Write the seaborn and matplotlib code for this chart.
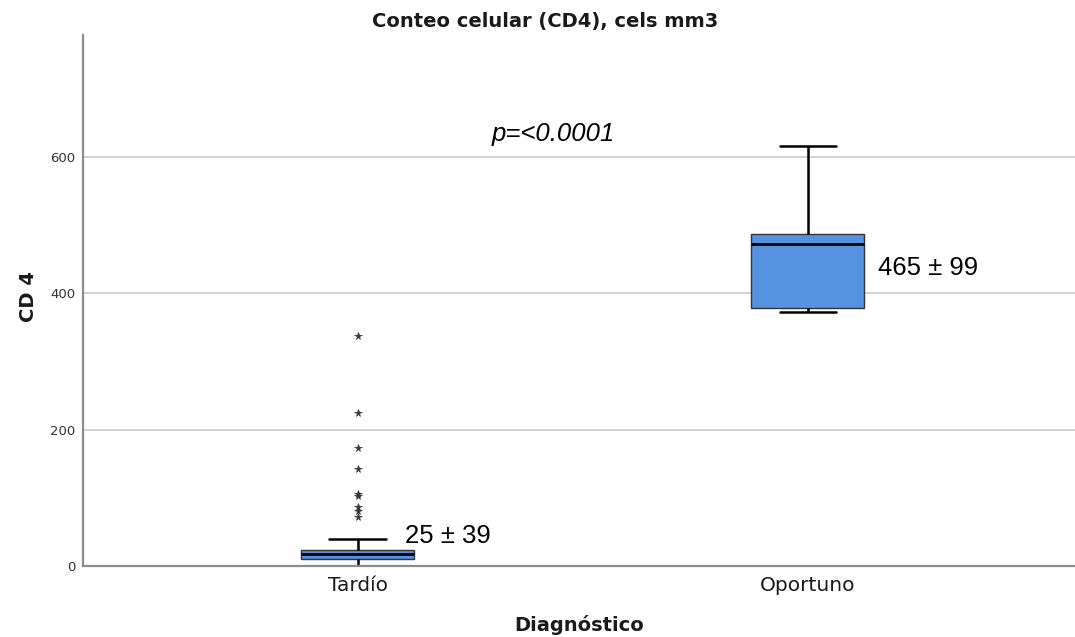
import matplotlib
matplotlib.use("Agg")
import matplotlib.pyplot as plt
import seaborn as sns
import pandas as pd

# CD4 counts (cells/mm3) by diagnosis timing
categories = ["Tardío", "Oportuno"]

cd4_tardio = [
    0, 0, 0, 0, 1, 1, 2, 2, 3, 3, 4, 4, 5, 5, 6, 6, 7, 7, 8, 8, 8,
    9, 9, 9, 9, 10, 10, 10, 10, 10, 11, 11, 11, 11, 11, 11,
    11,
    12, 12, 12, 12, 12, 13, 13, 13, 13, 13, 13, 14, 14, 14, 14, 14, 14,
    15, 15, 15, 15, 15, 15, 16, 16, 16, 16, 16, 16, 17, 17, 17, 17, 17, 17,
    17,
    17, 17, 18, 18, 18, 18, 18, 18, 19, 19, 19, 19, 19, 19, 20, 20, 20,
    20, 20, 20, 21, 21, 21, 21, 21, 22, 22, 22, 22, 22, 23, 23, 23, 23, 23,
    23,
    24, 24, 25, 25, 26, 26, 27, 27, 28, 28, 29, 29, 30, 30, 31, 31,
    32, 33, 34, 35, 36, 37, 38, 38, 39, 40, 40,
    72, 80, 86, 102, 105, 143, 173, 225, 338,
]
cd4_oportuno = [372, 378, 472, 487, 616]

summary_labels = ["25 ± 39", "465 ± 99"]
summary_pos = [(0.105, 44), (1.155, 437)]
p_label = "p=<0.0001"

y_ticks = [0, 200, 400, 600]

df = pd.DataFrame({
    "Diagnóstico": [categories[0]] * len(cd4_tardio) + [categories[1]] * len(cd4_oportuno),
    "CD4": cd4_tardio + cd4_oportuno,
})

sns.set_style("white")
plt.rcParams["font.family"] = ["DejaVu Sans"]

fig = plt.figure(figsize=(10.75, 6.37), dpi=100)
ax = fig.add_axes([83 / 1075, 1 - 566 / 637, 992 / 1075, 531 / 637])

box_color = "#5593E0"
sns.boxplot(
    data=df, x="Diagnóstico", y="CD4", order=categories, ax=ax,
    width=0.251, color=box_color, saturation=1, whis=1.5,
    linecolor="#1a1a1a", linewidth=1.0,
    boxprops=dict(edgecolor="#333333", linewidth=1.0),
    medianprops=dict(color="black", linewidth=2.0),
    whiskerprops=dict(color="black", linewidth=1.8),
    capprops=dict(color="black", linewidth=1.8),
    flierprops=dict(marker="*", markerfacecolor="#333333",
                    markeredgecolor="#333333", markeredgewidth=0.5,
                    markersize=5.5),
)

ax.set_xlim(-0.610, 1.593)
ax.set_ylim(0, 779)
ax.set_yticks(y_ticks)
ax.set_yticklabels([str(t) for t in y_ticks])

ax.yaxis.grid(True, color="#d2d2d2", linewidth=1.4)
ax.xaxis.grid(False)
ax.set_axisbelow(True)

for side in ("top", "right"):
    ax.spines[side].set_visible(False)
for side in ("left", "bottom"):
    ax.spines[side].set_color("#8c8c8c")
    ax.spines[side].set_linewidth(1.6)

ax.tick_params(axis="y", length=0, pad=5.5, labelsize=9.5, labelcolor="#333333")
ax.tick_params(axis="x", length=0, pad=7, labelsize=14.5, labelcolor="#1a1a1a")

ax.set_xlabel("Diagnóstico", fontsize=14, fontweight="bold", color="#1a1a1a")
ax.xaxis.set_label_coords(0.5, -0.111)
ax.xaxis.label.set_va("center")
ax.set_ylabel("CD 4", fontsize=14, fontweight="bold", color="#1a1a1a")
ax.yaxis.set_label_coords(-0.0554, 0.507)
ax.yaxis.label.set_va("center")

fig.text(545 / 1075, 1 - 27 / 637, "Conteo celular (CD4), cels mm3",
         ha="center", va="baseline", fontsize=14, fontweight="bold", color="#1a1a1a")

for txt, (x, y) in zip(summary_labels, summary_pos):
    ax.text(x, y, txt, ha="left", va="center", fontsize=18.5,
            family="Liberation Sans", color="black")

ax.text(0.434, 623, p_label, ha="center", va="baseline", fontsize=18.5,
        family="Liberation Sans", style="italic", color="black")

fig.savefig("out.png", dpi=100)
